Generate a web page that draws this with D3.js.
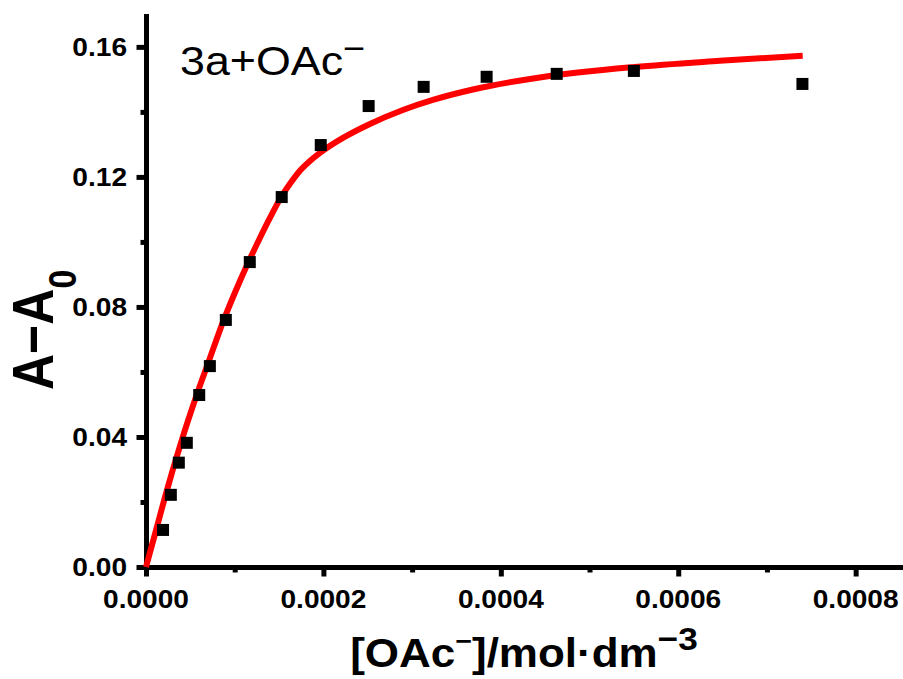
<!DOCTYPE html>
<html>
<head>
<meta charset="utf-8">
<script src="https://cdn.jsdelivr.net/npm/d3@7"></script>
<style>
  body { margin: 0; background: #fff; }
  text { font-family: "Liberation Sans", Arial, sans-serif; fill: #000; }
</style>
</head>
<body>
<div id="chart"></div>
<script>
// set the dimensions and margins of the graph
var margin = {top: 16, right: 2, bottom: 112, left: 146},
    width = 903 - margin.left - margin.right,
    height = 679 - margin.top - margin.bottom;

// measured points
var concX = [0.0000192, 0.000028, 0.000037, 0.000046, 0.000060, 0.000072, 0.000090, 0.000117,
             0.000153, 0.000197, 0.000251, 0.000313, 0.000384, 0.000463, 0.000550, 0.000740];
var absY = [0.0114, 0.0222, 0.0321, 0.0382, 0.0529, 0.0618, 0.0760, 0.0938,
            0.1138, 0.1298, 0.1418, 0.1477, 0.1508, 0.1517, 0.1526, 0.1486];

// fitted curve
var fitX = [0, 0.0000068, 0.0000135, 0.0000214, 0.0000394, 0.0000575, 0.0000721, 0.0000868,
            0.0001059, 0.0001273, 0.0001397, 0.0001532, 0.0001623, 0.0001735, 0.0001848,
            0.0001961, 0.0002220, 0.0002524, 0.0002896, 0.0003234, 0.0003685, 0.0004439,
            0.0005510, 0.0006468, 0.0007403];
var fitY = [0, 0.0068, 0.0135, 0.0215, 0.0382, 0.0532, 0.0643, 0.0754,
            0.0880, 0.1006, 0.1074, 0.1142, 0.1179, 0.1219, 0.1249,
            0.1274, 0.1320, 0.1363, 0.1406, 0.1437, 0.1469, 0.1506,
            0.1538, 0.1557, 0.1573];

// ticks
var xTicks = [0, 0.0002, 0.0004, 0.0006, 0.0008],
    xMinor = [0.0001, 0.0003, 0.0005, 0.0007],
    yTicks = [0, 0.04, 0.08, 0.12, 0.16],
    yMinor = [0.02, 0.06, 0.10, 0.14];

var svg = d3.select("#chart")
    .append("svg")
    .attr("width", width + margin.left + margin.right)
    .attr("height", height + margin.top + margin.bottom)
    .append("g")
    .attr("transform", "translate(" + margin.left + "," + margin.top + ")");

var x = d3.scaleLinear().domain([0, 0.00085]).range([0, width - 1]);
var y = d3.scaleLinear().domain([0, 0.1695]).range([height, 0]);

var axisW = 5, sx = 1.08;

// minor ticks
svg.append("g")
    .attr("transform", "translate(0," + height + ")")
    .call(d3.axisBottom(x).tickValues(xMinor).tickSize(axisW / 2 + 3).tickSizeOuter(0).tickFormat(""))
    .call(function(g) { g.select(".domain").remove(); });
svg.append("g")
    .call(d3.axisLeft(y).tickValues(yMinor).tickSize(axisW / 2 + 3).tickSizeOuter(0).tickFormat(""))
    .call(function(g) { g.select(".domain").remove(); });

// major ticks and axis lines
svg.append("g")
    .attr("transform", "translate(0," + height + ")")
    .call(d3.axisBottom(x).tickValues(xTicks).tickSize(axisW / 2 + 7).tickSizeOuter(0).tickFormat(""));
svg.append("g")
    .call(d3.axisLeft(y).tickValues(yTicks).tickSize(axisW / 2 + 7).tickSizeOuter(0).tickFormat(""));

svg.selectAll(".tick line").attr("stroke", "#000").attr("stroke-width", axisW);
svg.selectAll(".domain").attr("stroke", "#000").attr("stroke-width", axisW)
    .attr("stroke-linecap", "square");

// tick labels
svg.append("g").selectAll("g")
    .data(xTicks)
    .enter()
    .append("g")
    .attr("transform", function(d) { return "translate(" + x(d) + "," + (height + 41) + ") scale(" + sx + ",1)"; })
    .append("text")
    .attr("text-anchor", "middle")
    .style("font-size", "26px")
    .style("font-weight", "bold")
    .text(d3.format(".4f"));

svg.append("g").selectAll("g")
    .data(yTicks)
    .enter()
    .append("g")
    .attr("transform", function(d) { return "translate(-19," + (y(d) + 9) + ") scale(" + sx + ",1)"; })
    .append("text")
    .attr("text-anchor", "end")
    .style("font-size", "26px")
    .style("font-weight", "bold")
    .text(d3.format(".2f"));

// fit line
var line = d3.line()
    .x(function(d, i) { return x(fitX[i]); })
    .y(function(d) { return y(d); })
    .curve(d3.curveMonotoneX);

svg.append("path")
    .datum(fitY)
    .attr("d", line)
    .attr("fill", "none")
    .attr("stroke", "#ff0000")
    .attr("stroke-width", 6);

// data squares
svg.append("g").selectAll("rect")
    .data(absY)
    .enter()
    .append("rect")
    .attr("x", function(d, i) { return x(concX[i]) - 6; })
    .attr("y", function(d) { return y(d) - 6; })
    .attr("width", 12)
    .attr("height", 12)
    .attr("fill", "#000");

// sample label
var note = svg.append("g")
    .attr("transform", "translate(34,59) scale(1.12,1)")
    .append("text")
    .style("font-size", "40px");
note.append("tspan").text("3a+OAc");
note.append("tspan").attr("dy", -15).style("font-size", "34px").text("\u2212");

// x axis title
var xt = svg.append("g")
    .attr("transform", "translate(378," + (height + 100) + ") scale(1.1,1)")
    .append("text")
    .attr("text-anchor", "middle")
    .style("font-size", "40px")
    .style("font-weight", "bold");
xt.append("tspan").text("[OAc");
xt.append("tspan").attr("dy", -17).style("font-size", "26px").text("\u2212");
xt.append("tspan").attr("dy", 17).text("]/mol\u00b7dm");
xt.append("tspan").attr("dy", -17).style("font-size", "32px").text("\u22123");

// y axis title
var yt = svg.append("g")
    .attr("transform", "translate(-93,374) scale(1.15,1) rotate(-90)")
    .append("text")
    .style("font-size", "50px")
    .style("font-weight", "bold");
yt.append("tspan").text("A\u2212A");
yt.append("tspan").attr("dy", 20).style("font-size", "34px").text("0");
</script>
</body>
</html>
